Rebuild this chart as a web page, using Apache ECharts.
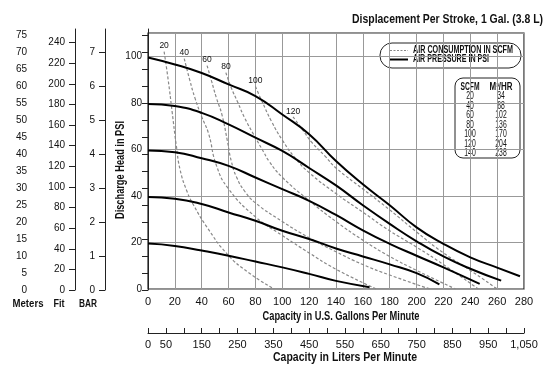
<!DOCTYPE html>
<html>
<head>
<meta charset="utf-8">
<script src="https://cdn.jsdelivr.net/npm/echarts@6/dist/echarts.min.js"></script>
<style>
    html, body { margin: 0; padding: 0; background: #fff; }
    #pumpChart { width: 550px; height: 375px; }
</style>
</head>
<body>
<div id="pumpChart"></div>
<script>
// head curves, one per air pressure (gpm, psi)
var psi20 = [[0, 19.5], [20, 18.5], [40, 16.5], [60, 14.3], [80, 11.8], [100, 9.3], [120, 6.5], [140, 3.5], [165, 0.8]];
var psi40 = [[0, 39.5], [20, 38.8], [40, 36.5], [60, 32.9], [80, 29.3], [100, 25], [120, 21.5], [140, 17.4], [160, 14], [180, 10.6], [200, 6.8], [217, 2]];
var psi60 = [[0, 59.5], [20, 58.8], [40, 56.2], [60, 52.9], [80, 47.9], [100, 42.9], [120, 37.9], [140, 31.8], [160, 25.2], [180, 19.4], [200, 14.3], [220, 9.3], [247, 2.2]];
var psi80 = [[0, 79.5], [20, 78.6], [40, 75.7], [60, 70.7], [80, 65], [100, 59.3], [120, 52], [140, 44.5], [160, 36], [180, 28], [200, 20.5], [220, 14], [240, 8.7], [263, 3.6]];
var psi100 = [[0, 99.5], [20, 96.5], [40, 92.8], [60, 87.9], [80, 82.9], [100, 75], [120, 66.5], [140, 55], [160, 45], [180, 36], [200, 26.5], [220, 19.4], [240, 13.6], [260, 9.2], [277, 5.5]];

// air consumption curves (gpm, psi)
var scfm20 = [[12, 102], [15, 90], [18, 76], [21, 62], [24, 51], [29, 42], [34, 36], [44, 26.5], [59, 15], [75, 7], [94, 0]];
var scfm40 = [[27, 99], [31, 90], [35, 82], [40, 74], [45, 67], [51, 53], [60, 43], [80, 31], [100, 23], [120, 15.5], [140, 8.5], [170, 0]];
var scfm60 = [[44, 96], [47, 90], [51, 82], [55, 75], [59, 64], [62, 55], [66, 48], [72, 42], [80, 37], [100, 29], [120, 22], [140, 16], [160, 10.5], [180, 6], [210, 0]];
var scfm80 = [[58, 93], [62, 86.5], [67, 80], [72, 73.5], [80, 65], [86, 59], [90, 55], [100, 48], [120, 38], [140, 29], [160, 21], [180, 14], [200, 8], [229, 0]];
var scfm100 = [[80, 87], [85, 80.5], [92, 72], [100, 64], [110, 56], [120, 50], [140, 41], [160, 33], [180, 25], [200, 18], [220, 10.5], [246, 0]];
var scfm120 = [[108, 74], [115, 68.5], [122, 63], [132, 57], [140, 52], [160, 43], [180, 34], [200, 24.5], [220, 15.5], [240, 8], [260, 0]];

var psiCurves = [psi20, psi40, psi60, psi80, psi100];
var scfmCurves = [scfm20, scfm40, scfm60, scfm80, scfm100, scfm120];
var scfmNames = ['20', '40', '60', '80', '100', '120'];

// side scales and liter scale
var meterTicks = [0, 5, 10, 15, 20, 25, 30, 35, 40, 45, 50, 55, 60, 65, 70, 75];
var footTicks = [0, 20, 40, 60, 80, 100, 120, 140, 160, 180, 200, 220, 240];
var barTicks = [0, 1, 2, 3, 4, 5, 6, 7];
var literTicks = [0, 50, 100, 150, 200, 250, 300, 350, 400, 450, 500, 550, 600, 650, 700, 750, 800, 850, 900, 950, 1000, 1050];
var literLabels = [0, 50, 150, 250, 350, 450, 550, 650, 750, 850, 950, 1050];

// conversion table
var tableScfm = ['20', '40', '60', '80', '100', '120', '140'];
var tableM3hr = ['34', '68', '102', '136', '170', '204', '238'];

var plain = "'Liberation Sans', Arial, sans-serif";
var boldFont = "bold 12px 'Liberation Sans', Arial, sans-serif";

var chart = echarts.init(document.getElementById('pumpChart'));

// the original uses a condensed face; squeeze text to the measured width
var measureCtx = document.createElement('canvas').getContext('2d');
function squeezed(text, x, y, font, width, align, rot) {
    measureCtx.font = font;
    var s = width / measureCtx.measureText(text).width;
    return {
        type: 'text', x: x, y: y, scaleX: s, rotation: rot || 0,
        style: {text: text, font: font, fill: '#111', align: align || 'center', verticalAlign: 'middle'}
    };
}

function sideAxis(max, offset, ticks) {
    return {
        type: 'value', gridIndex: 1, position: 'left', offset: offset, min: 0, max: max,
        axisLine: {show: true, lineStyle: {color: '#222'}},
        axisTick: {show: true, length: 6, customValues: ticks, lineStyle: {color: '#222'}},
        axisLabel: {customValues: ticks, margin: 10, color: '#111', fontSize: 10, fontFamily: plain},
        splitLine: {show: false}
    };
}

var series = [];
psiCurves.forEach(function (c) {
    series.push({
        name: 'AIR PRESSURE IN PSI', type: 'line', smooth: true, symbol: 'none',
        data: c, lineStyle: {color: '#000', width: 2}, itemStyle: {color: '#000'}, z: 3
    });
});
scfmCurves.forEach(function (c, i) {
    var data = c.map(function (p, j) {
        if (j === 0) {
            return {value: p, label: {show: true, formatter: scfmNames[i], position: 'top', distance: 1,
                fontSize: 8.5, color: '#111', fontFamily: plain}};
        }
        return p;
    });
    series.push({
        name: 'AIR CONSUMPTION IN SCFM', type: 'line', smooth: true,
        symbol: 'circle', symbolSize: 0, showSymbol: true, showAllSymbol: true,
        data: data, lineStyle: {color: '#888', width: 1.2, type: [3, 2]}, itemStyle: {color: '#888'}, z: 2
    });
});

// legend box
var legendGroup = {
    type: 'group', x: 380, y: 43, children: [
        {type: 'rect', shape: {x: 0, y: 0, width: 141, height: 25, r: 12}, style: {fill: '#fff', stroke: '#222', lineWidth: 1}},
        {type: 'line', shape: {x1: 10, y1: 7.5, x2: 28, y2: 7.5}, style: {stroke: '#888', lineWidth: 1.2, lineDash: [2, 1.5]}},
        {type: 'line', shape: {x1: 10, y1: 16.5, x2: 28, y2: 16.5}, style: {stroke: '#000', lineWidth: 2}},
        squeezed('AIR CONSUMPTION IN SCFM', 33, 7.5, 'bold 10px ' + plain, 100, 'left'),
        squeezed('AIR PRESSURE IN PSI', 33, 16.5, 'bold 10px ' + plain, 76, 'left')
    ]
};

// SCFM to m3/hr table
var tableChildren = [
    {type: 'rect', shape: {x: 0, y: 0, width: 65, height: 80, r: 8}, style: {fill: '#fff', stroke: '#222', lineWidth: 1}},
    squeezed('SCFM', 15, 9, 'bold 10px ' + plain, 19),
    squeezed('M³/HR', 46, 9, 'bold 10px ' + plain, 23)
];
tableScfm.forEach(function (s, i) {
    tableChildren.push(squeezed(s, 15, 18.5 + i * 9.5, '10px ' + plain, s.length * 3.8));
    tableChildren.push(squeezed(tableM3hr[i], 46, 18.5 + i * 9.5, '10px ' + plain, tableM3hr[i].length * 3.8));
});

var option = {
    animation: false,
    grid: [
        {left: 148, right: 26, top: 33, bottom: 86, show: true, borderColor: '#222', borderWidth: 1.2},
        {left: 148, right: 26, top: 29, bottom: 85}
    ],
    xAxis: [{
        type: 'value', min: 0, max: 280, interval: 20,
        axisLine: {show: false}, axisTick: {show: false},
        axisLabel: {margin: 7, fontSize: 11, color: '#111', fontFamily: plain},
        splitLine: {show: true, lineStyle: {color: '#999', width: 1}}
    }, {
        type: 'value', position: 'bottom', offset: 44, min: 0, max: 1050,
        axisLine: {show: true, onZero: false, lineStyle: {color: '#222'}},
        axisTick: {show: true, inside: true, length: 5, customValues: literTicks, lineStyle: {color: '#222'}},
        axisLabel: {customValues: literLabels, margin: 6, fontSize: 11, color: '#111', fontFamily: plain,
            formatter: function (v) { return v >= 1000 ? Math.floor(v / 1000) + ',' + ('00' + (v % 1000)).slice(-3) : String(v); }},
        splitLine: {show: false}
    }, {
        type: 'value', gridIndex: 1, show: false, min: 0, max: 1
    }],
    yAxis: [{
        type: 'value', min: 0, max: 110, interval: 20,
        axisLine: {show: false}, axisTick: {show: false},
        axisLabel: {showMaxLabel: false, margin: 6, fontSize: 10, color: '#111', fontFamily: plain},
        splitLine: {show: true, lineStyle: {color: '#999', width: 1}}
    },
        sideAxis(76.8, 111, meterTicks),
        sideAxis(253.3, 73, footTicks),
        sideAxis(7.68, 43, barTicks)
    ],
    graphic: [
        squeezed('Displacement Per Stroke, 1 Gal. (3.8 L)', 543, 20, boldFont, 191, 'right'),
        squeezed('Capacity in U.S. Gallons Per Minute', 341, 317, boldFont, 157),
        squeezed('Capacity in Liters Per Minute', 345, 358, boldFont, 144),
        squeezed('Discharge Head in PSI', 121, 170, boldFont, 98, 'center', Math.PI / 2),
        squeezed('Meters', 28, 304, 'bold 11px ' + plain, 31),
        squeezed('Fit', 59, 304, 'bold 11px ' + plain, 11),
        squeezed('BAR', 88, 304, 'bold 11px ' + plain, 18),
        legendGroup,
        {type: 'group', x: 455, y: 78, children: tableChildren}
    ],
    series: series
};

chart.setOption(option);
</script>
</body>
</html>
